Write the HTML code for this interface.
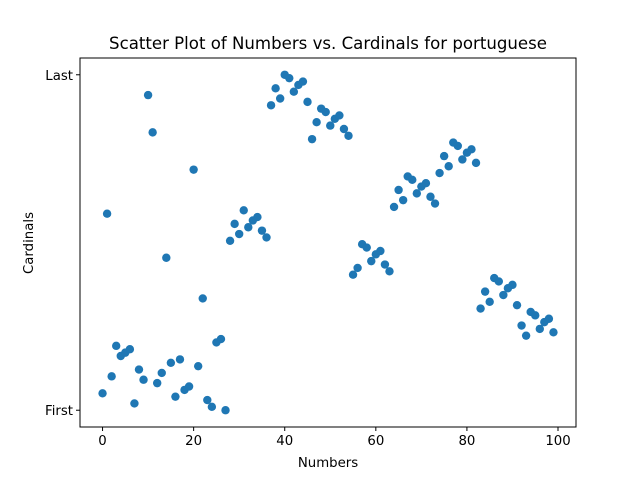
<!DOCTYPE html>
<html><head><meta charset="utf-8"><style>
body{margin:0;background:#fff;}
svg text{font-family:"DejaVu Sans","Liberation Sans",sans-serif;fill:#000;}
</style></head><body>
<svg id="chart" width="640" height="480" xmlns="http://www.w3.org/2000/svg">
<rect width="640" height="480" fill="#fff"/>
<text x="328" y="49" font-size="16.6" text-anchor="middle">Scatter Plot of Numbers vs. Cardinals for portuguese</text>
<g id="marks"></g>
<g id="axes"></g>
<rect x="80" y="58" width="496" height="369" fill="none" stroke="#000" stroke-width="1"/>
<text x="328" y="467" font-size="13.3" text-anchor="middle">Numbers</text>
<text x="33" y="243" font-size="13.3" text-anchor="middle" transform="rotate(-90 33 243)">Cardinals</text>
</svg>
<script>
const xValues = Array.from({length:100},(_, i)=>i);
const yRanks = [5,58,10,19,16,17,18,2,12,9,93,82,8,11,45,14,4,15,6,7,71,13,33,3,1,20,21,0,50,55,52,59,54,56,57,53,51,90,95,92,99,98,94,96,97,91,80,85,89,88,84,86,87,83,81,40,42,49,48,44,46,47,43,41,60,65,62,69,68,64,66,67,63,61,70,75,72,79,78,74,76,77,73,30,35,32,39,38,34,36,37,31,25,22,29,28,24,26,27,23];
const xTicks = [0,20,40,60,80,100];
const yTickValues = [0,99];
const yTickLabels = ["First","Last"];
const NS="http://www.w3.org/2000/svg";
const xMin=-4.95,xMax=103.95,L=80,R=576,T=58,B=427;
const yMin=-4.95,yMax=103.95;
function sx(v){return L+(v-xMin)/(xMax-xMin)*(R-L);}
function sy(v){return B-(v-yMin)/(yMax-yMin)*(B-T);}
const marks=document.getElementById('marks');
xValues.forEach((x,i)=>{
  const c=document.createElementNS(NS,'circle');
  c.setAttribute('cx',sx(x));c.setAttribute('cy',sy(yRanks[i]));
  c.setAttribute('r',4.2);c.setAttribute('fill','#1f77b4');
  
  
  marks.appendChild(c);
});
const axes=document.getElementById('axes');
xTicks.forEach(t=>{
  const l=document.createElementNS(NS,'line');
  l.setAttribute('x1',sx(t));l.setAttribute('x2',sx(t));l.setAttribute('y1',B);l.setAttribute('y2',B+4);
  l.setAttribute('stroke','#000');
  
  
  axes.appendChild(l);
  const tx=document.createElementNS(NS,'text');
  tx.setAttribute('x',sx(t));tx.setAttribute('y',B+18);tx.setAttribute('font-size','13.3');tx.setAttribute('text-anchor','middle');
  tx.textContent=t;
  
  
  axes.appendChild(tx);
});
yTickValues.forEach((t,i)=>{
  const l=document.createElementNS(NS,'line');
  l.setAttribute('x1',L-4);l.setAttribute('x2',L);l.setAttribute('y1',sy(t));l.setAttribute('y2',sy(t));
  l.setAttribute('stroke','#000');
  
  
  axes.appendChild(l);
  const tx=document.createElementNS(NS,'text');
  tx.setAttribute('x',L-7);tx.setAttribute('y',sy(t)+5);tx.setAttribute('font-size','13.3');tx.setAttribute('text-anchor','end');
  tx.textContent=yTickLabels[i];
  
  
  axes.appendChild(tx);
});
</script>
</body></html>
